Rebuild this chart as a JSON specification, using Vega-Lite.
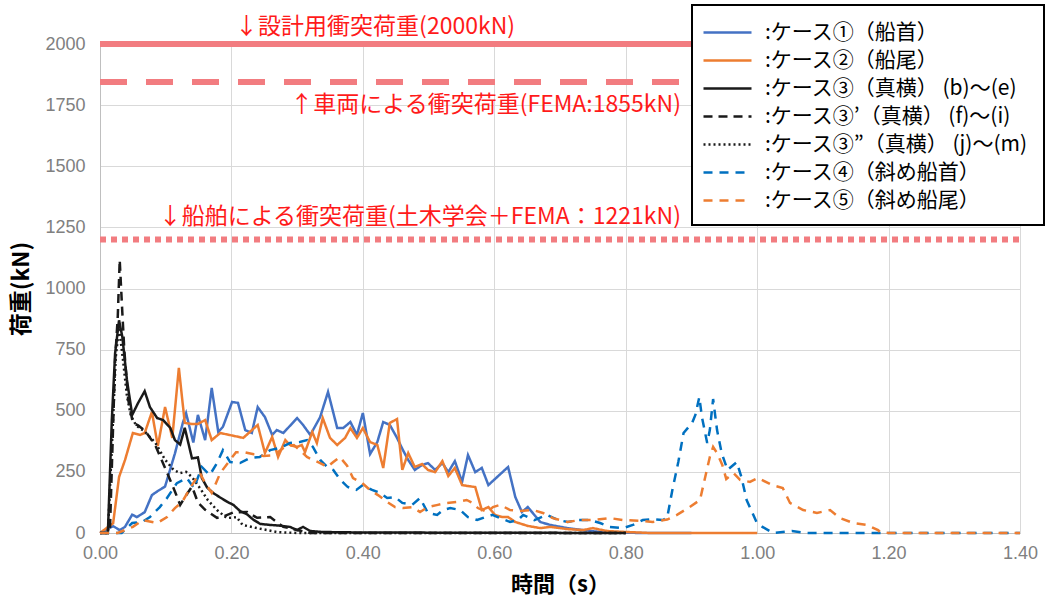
{
"$schema":"https://vega.github.io/schema/vega-lite/v6.json",
"width":920,"height":489,
"autosize":{"type":"none"},
"padding":{"left":100,"top":44,"right":27,"bottom":67},
"background":"white",
"config":{"view":{"stroke":null},"font":"Noto Sans CJK JP"},
"layer":[
{
"data":{"values":[
{"k":"c1","t":0,"v":0},{"k":"c1","t":0.02,"v":28},{"k":"c1","t":0.03,"v":12},{"k":"c1","t":0.038,"v":25},{"k":"c1","t":0.049,"v":75},{"k":"c1","t":0.056,"v":65},{"k":"c1","t":0.068,"v":85},{"k":"c1","t":0.079,"v":155},{"k":"c1","t":0.087,"v":170},{"k":"c1","t":0.099,"v":190},{"k":"c1","t":0.114,"v":325},{"k":"c1","t":0.126,"v":450},{"k":"c1","t":0.131,"v":490},{"k":"c1","t":0.142,"v":370},{"k":"c1","t":0.149,"v":483},{"k":"c1","t":0.16,"v":380},{"k":"c1","t":0.17,"v":593},{"k":"c1","t":0.18,"v":413},{"k":"c1","t":0.187,"v":434},{"k":"c1","t":0.201,"v":536},{"k":"c1","t":0.21,"v":532},{"k":"c1","t":0.221,"v":421},{"k":"c1","t":0.231,"v":409},{"k":"c1","t":0.24,"v":515},{"k":"c1","t":0.251,"v":474},{"k":"c1","t":0.262,"v":401},{"k":"c1","t":0.269,"v":421},{"k":"c1","t":0.279,"v":409},{"k":"c1","t":0.3,"v":470},{"k":"c1","t":0.309,"v":442},{"k":"c1","t":0.32,"v":401},{"k":"c1","t":0.335,"v":474},{"k":"c1","t":0.347,"v":577},{"k":"c1","t":0.361,"v":429},{"k":"c1","t":0.37,"v":429},{"k":"c1","t":0.381,"v":454},{"k":"c1","t":0.391,"v":401},{"k":"c1","t":0.4,"v":491},{"k":"c1","t":0.411,"v":323},{"k":"c1","t":0.422,"v":372},{"k":"c1","t":0.431,"v":454},{"k":"c1","t":0.441,"v":442},{"k":"c1","t":0.452,"v":389},{"k":"c1","t":0.461,"v":339},{"k":"c1","t":0.469,"v":299},{"k":"c1","t":0.479,"v":258},{"k":"c1","t":0.49,"v":278},{"k":"c1","t":0.499,"v":286},{"k":"c1","t":0.51,"v":258},{"k":"c1","t":0.521,"v":286},{"k":"c1","t":0.53,"v":249},{"k":"c1","t":0.54,"v":294},{"k":"c1","t":0.551,"v":209},{"k":"c1","t":0.56,"v":319},{"k":"c1","t":0.571,"v":249},{"k":"c1","t":0.581,"v":266},{"k":"c1","t":0.591,"v":196},{"k":"c1","t":0.621,"v":270},{"k":"c1","t":0.632,"v":147},{"k":"c1","t":0.642,"v":86},{"k":"c1","t":0.651,"v":106},{"k":"c1","t":0.67,"v":45},{"k":"c1","t":0.685,"v":33},{"k":"c1","t":0.711,"v":20},{"k":"c1","t":0.735,"v":12},{"k":"c1","t":0.761,"v":4},{"k":"c1","t":0.822,"v":0},{"k":"c1","t":0.9,"v":0},
{"k":"c2","t":0,"v":0},{"k":"c2","t":0.02,"v":40},{"k":"c2","t":0.029,"v":229},{"k":"c2","t":0.038,"v":298},{"k":"c2","t":0.05,"v":409},{"k":"c2","t":0.061,"v":401},{"k":"c2","t":0.068,"v":409},{"k":"c2","t":0.079,"v":495},{"k":"c2","t":0.088,"v":356},{"k":"c2","t":0.099,"v":515},{"k":"c2","t":0.11,"v":389},{"k":"c2","t":0.12,"v":675},{"k":"c2","t":0.129,"v":450},{"k":"c2","t":0.14,"v":446},{"k":"c2","t":0.149,"v":446},{"k":"c2","t":0.16,"v":462},{"k":"c2","t":0.17,"v":380},{"k":"c2","t":0.183,"v":409},{"k":"c2","t":0.218,"v":389},{"k":"c2","t":0.24,"v":442},{"k":"c2","t":0.251,"v":327},{"k":"c2","t":0.262,"v":393},{"k":"c2","t":0.271,"v":311},{"k":"c2","t":0.282,"v":380},{"k":"c2","t":0.289,"v":360},{"k":"c2","t":0.3,"v":352},{"k":"c2","t":0.307,"v":360},{"k":"c2","t":0.312,"v":331},{"k":"c2","t":0.323,"v":413},{"k":"c2","t":0.33,"v":368},{"k":"c2","t":0.339,"v":470},{"k":"c2","t":0.35,"v":389},{"k":"c2","t":0.361,"v":360},{"k":"c2","t":0.373,"v":389},{"k":"c2","t":0.381,"v":429},{"k":"c2","t":0.391,"v":389},{"k":"c2","t":0.4,"v":429},{"k":"c2","t":0.411,"v":372},{"k":"c2","t":0.422,"v":360},{"k":"c2","t":0.431,"v":266},{"k":"c2","t":0.441,"v":450},{"k":"c2","t":0.452,"v":466},{"k":"c2","t":0.46,"v":258},{"k":"c2","t":0.469,"v":327},{"k":"c2","t":0.479,"v":270},{"k":"c2","t":0.49,"v":282},{"k":"c2","t":0.499,"v":258},{"k":"c2","t":0.51,"v":249},{"k":"c2","t":0.521,"v":294},{"k":"c2","t":0.53,"v":233},{"k":"c2","t":0.54,"v":266},{"k":"c2","t":0.551,"v":196},{"k":"c2","t":0.56,"v":192},{"k":"c2","t":0.571,"v":188},{"k":"c2","t":0.581,"v":94},{"k":"c2","t":0.591,"v":106},{"k":"c2","t":0.601,"v":74},{"k":"c2","t":0.612,"v":65},{"k":"c2","t":0.621,"v":65},{"k":"c2","t":0.632,"v":45},{"k":"c2","t":0.651,"v":29},{"k":"c2","t":0.67,"v":20},{"k":"c2","t":0.685,"v":25},{"k":"c2","t":0.711,"v":16},{"k":"c2","t":0.735,"v":12},{"k":"c2","t":0.75,"v":20},{"k":"c2","t":0.772,"v":8},{"k":"c2","t":0.802,"v":4},{"k":"c2","t":0.837,"v":0},{"k":"c2","t":1.0,"v":0},
{"k":"c3","t":0,"v":0},{"k":"c3","t":0.012,"v":0},{"k":"c3","t":0.018,"v":462},{"k":"c3","t":0.023,"v":736},{"k":"c3","t":0.029,"v":870},{"k":"c3","t":0.034,"v":802},{"k":"c3","t":0.041,"v":626},{"k":"c3","t":0.049,"v":483},{"k":"c3","t":0.058,"v":532},{"k":"c3","t":0.068,"v":580},{"k":"c3","t":0.076,"v":515},{"k":"c3","t":0.087,"v":470},{"k":"c3","t":0.096,"v":462},{"k":"c3","t":0.107,"v":430},{"k":"c3","t":0.114,"v":380},{"k":"c3","t":0.122,"v":362},{"k":"c3","t":0.129,"v":430},{"k":"c3","t":0.14,"v":305},{"k":"c3","t":0.149,"v":309},{"k":"c3","t":0.155,"v":225},{"k":"c3","t":0.163,"v":186},{"k":"c3","t":0.172,"v":164},{"k":"c3","t":0.183,"v":145},{"k":"c3","t":0.194,"v":127},{"k":"c3","t":0.203,"v":115},{"k":"c3","t":0.213,"v":90},{"k":"c3","t":0.224,"v":76},{"k":"c3","t":0.233,"v":55},{"k":"c3","t":0.244,"v":37},{"k":"c3","t":0.259,"v":33},{"k":"c3","t":0.274,"v":30},{"k":"c3","t":0.289,"v":25},{"k":"c3","t":0.3,"v":12},{"k":"c3","t":0.309,"v":25},{"k":"c3","t":0.32,"v":8},{"k":"c3","t":0.339,"v":4},{"k":"c3","t":0.4,"v":2},{"k":"c3","t":0.8,"v":0},
{"k":"c3b","t":0,"v":0},{"k":"c3b","t":0.015,"v":0},{"k":"c3b","t":0.023,"v":708},{"k":"c3b","t":0.027,"v":883},{"k":"c3b","t":0.03,"v":1117},{"k":"c3b","t":0.034,"v":900},{"k":"c3b","t":0.037,"v":748},{"k":"c3b","t":0.043,"v":544},{"k":"c3b","t":0.05,"v":450},{"k":"c3b","t":0.058,"v":440},{"k":"c3b","t":0.068,"v":420},{"k":"c3b","t":0.084,"v":360},{"k":"c3b","t":0.1,"v":260},{"k":"c3b","t":0.114,"v":170},{"k":"c3b","t":0.122,"v":115},{"k":"c3b","t":0.13,"v":150},{"k":"c3b","t":0.14,"v":190},{"k":"c3b","t":0.149,"v":125},{"k":"c3b","t":0.16,"v":95},{"k":"c3b","t":0.178,"v":62},{"k":"c3b","t":0.19,"v":70},{"k":"c3b","t":0.203,"v":84},{"k":"c3b","t":0.224,"v":86},{"k":"c3b","t":0.239,"v":62},{"k":"c3b","t":0.259,"v":65},{"k":"c3b","t":0.279,"v":25},{"k":"c3b","t":0.3,"v":12},{"k":"c3b","t":0.32,"v":0},{"k":"c3b","t":0.8,"v":0},
{"k":"c3c","t":0,"v":0},{"k":"c3c","t":0.012,"v":0},{"k":"c3c","t":0.018,"v":350},{"k":"c3c","t":0.024,"v":720},{"k":"c3c","t":0.029,"v":840},{"k":"c3c","t":0.035,"v":708},{"k":"c3c","t":0.041,"v":560},{"k":"c3c","t":0.047,"v":480},{"k":"c3c","t":0.055,"v":440},{"k":"c3c","t":0.068,"v":415},{"k":"c3c","t":0.084,"v":370},{"k":"c3c","t":0.099,"v":300},{"k":"c3c","t":0.112,"v":258},{"k":"c3c","t":0.122,"v":245},{"k":"c3c","t":0.131,"v":250},{"k":"c3c","t":0.14,"v":229},{"k":"c3c","t":0.152,"v":184},{"k":"c3c","t":0.164,"v":135},{"k":"c3c","t":0.178,"v":94},{"k":"c3c","t":0.193,"v":61},{"k":"c3c","t":0.208,"v":65},{"k":"c3c","t":0.217,"v":33},{"k":"c3c","t":0.239,"v":20},{"k":"c3c","t":0.269,"v":4},{"k":"c3c","t":0.3,"v":0},{"k":"c3c","t":0.8,"v":0},
{"k":"c4","t":0,"v":0},{"k":"c4","t":0.033,"v":0},{"k":"c4","t":0.049,"v":41},{"k":"c4","t":0.064,"v":45},{"k":"c4","t":0.076,"v":65},{"k":"c4","t":0.091,"v":106},{"k":"c4","t":0.102,"v":143},{"k":"c4","t":0.117,"v":204},{"k":"c4","t":0.132,"v":225},{"k":"c4","t":0.143,"v":184},{"k":"c4","t":0.155,"v":270},{"k":"c4","t":0.167,"v":237},{"k":"c4","t":0.178,"v":286},{"k":"c4","t":0.187,"v":339},{"k":"c4","t":0.198,"v":290},{"k":"c4","t":0.213,"v":286},{"k":"c4","t":0.228,"v":307},{"k":"c4","t":0.243,"v":311},{"k":"c4","t":0.259,"v":339},{"k":"c4","t":0.274,"v":348},{"k":"c4","t":0.289,"v":368},{"k":"c4","t":0.304,"v":372},{"k":"c4","t":0.315,"v":380},{"k":"c4","t":0.324,"v":352},{"k":"c4","t":0.335,"v":299},{"k":"c4","t":0.346,"v":270},{"k":"c4","t":0.355,"v":258},{"k":"c4","t":0.365,"v":220},{"k":"c4","t":0.377,"v":188},{"k":"c4","t":0.39,"v":176},{"k":"c4","t":0.4,"v":196},{"k":"c4","t":0.414,"v":176},{"k":"c4","t":0.426,"v":164},{"k":"c4","t":0.437,"v":143},{"k":"c4","t":0.449,"v":147},{"k":"c4","t":0.46,"v":123},{"k":"c4","t":0.475,"v":115},{"k":"c4","t":0.487,"v":143},{"k":"c4","t":0.499,"v":82},{"k":"c4","t":0.513,"v":74},{"k":"c4","t":0.522,"v":94},{"k":"c4","t":0.533,"v":102},{"k":"c4","t":0.548,"v":94},{"k":"c4","t":0.56,"v":65},{"k":"c4","t":0.574,"v":53},{"k":"c4","t":0.586,"v":65},{"k":"c4","t":0.597,"v":74},{"k":"c4","t":0.609,"v":61},{"k":"c4","t":0.624,"v":45},{"k":"c4","t":0.636,"v":53},{"k":"c4","t":0.644,"v":74},{"k":"c4","t":0.661,"v":53},{"k":"c4","t":0.68,"v":74},{"k":"c4","t":0.697,"v":53},{"k":"c4","t":0.712,"v":45},{"k":"c4","t":0.727,"v":53},{"k":"c4","t":0.746,"v":53},{"k":"c4","t":0.761,"v":41},{"k":"c4","t":0.776,"v":25},{"k":"c4","t":0.796,"v":20},{"k":"c4","t":0.811,"v":33},{"k":"c4","t":0.826,"v":53},{"k":"c4","t":0.841,"v":57},{"k":"c4","t":0.856,"v":53},{"k":"c4","t":0.863,"v":61},{"k":"c4","t":0.871,"v":176},{"k":"c4","t":0.88,"v":290},{"k":"c4","t":0.888,"v":409},{"k":"c4","t":0.901,"v":450},{"k":"c4","t":0.906,"v":483},{"k":"c4","t":0.912,"v":556},{"k":"c4","t":0.916,"v":474},{"k":"c4","t":0.924,"v":368},{"k":"c4","t":0.928,"v":421},{"k":"c4","t":0.933,"v":548},{"k":"c4","t":0.939,"v":421},{"k":"c4","t":0.946,"v":327},{"k":"c4","t":0.955,"v":258},{"k":"c4","t":0.969,"v":290},{"k":"c4","t":0.976,"v":229},{"k":"c4","t":0.984,"v":135},{"k":"c4","t":0.999,"v":45},{"k":"c4","t":1.008,"v":25},{"k":"c4","t":1.024,"v":0},{"k":"c4","t":1.053,"v":8},{"k":"c4","t":1.076,"v":0},{"k":"c4","t":1.4,"v":0},
{"k":"c5","t":0,"v":0},{"k":"c5","t":0.027,"v":0},{"k":"c5","t":0.05,"v":25},{"k":"c5","t":0.065,"v":53},{"k":"c5","t":0.087,"v":41},{"k":"c5","t":0.102,"v":65},{"k":"c5","t":0.114,"v":102},{"k":"c5","t":0.125,"v":127},{"k":"c5","t":0.14,"v":196},{"k":"c5","t":0.152,"v":245},{"k":"c5","t":0.16,"v":204},{"k":"c5","t":0.17,"v":164},{"k":"c5","t":0.183,"v":245},{"k":"c5","t":0.198,"v":299},{"k":"c5","t":0.207,"v":330},{"k":"c5","t":0.219,"v":331},{"k":"c5","t":0.234,"v":322},{"k":"c5","t":0.249,"v":315},{"k":"c5","t":0.265,"v":318},{"k":"c5","t":0.281,"v":352},{"k":"c5","t":0.295,"v":360},{"k":"c5","t":0.304,"v":339},{"k":"c5","t":0.315,"v":311},{"k":"c5","t":0.324,"v":299},{"k":"c5","t":0.335,"v":286},{"k":"c5","t":0.346,"v":270},{"k":"c5","t":0.355,"v":290},{"k":"c5","t":0.365,"v":311},{"k":"c5","t":0.376,"v":275},{"k":"c5","t":0.385,"v":225},{"k":"c5","t":0.399,"v":204},{"k":"c5","t":0.411,"v":176},{"k":"c5","t":0.423,"v":155},{"k":"c5","t":0.437,"v":127},{"k":"c5","t":0.449,"v":106},{"k":"c5","t":0.461,"v":102},{"k":"c5","t":0.475,"v":106},{"k":"c5","t":0.487,"v":86},{"k":"c5","t":0.499,"v":106},{"k":"c5","t":0.514,"v":115},{"k":"c5","t":0.528,"v":123},{"k":"c5","t":0.543,"v":127},{"k":"c5","t":0.558,"v":135},{"k":"c5","t":0.567,"v":123},{"k":"c5","t":0.575,"v":102},{"k":"c5","t":0.589,"v":86},{"k":"c5","t":0.598,"v":106},{"k":"c5","t":0.609,"v":115},{"k":"c5","t":0.624,"v":94},{"k":"c5","t":0.639,"v":90},{"k":"c5","t":0.659,"v":94},{"k":"c5","t":0.674,"v":82},{"k":"c5","t":0.689,"v":61},{"k":"c5","t":0.711,"v":45},{"k":"c5","t":0.731,"v":53},{"k":"c5","t":0.75,"v":53},{"k":"c5","t":0.776,"v":61},{"k":"c5","t":0.796,"v":53},{"k":"c5","t":0.822,"v":50},{"k":"c5","t":0.841,"v":45},{"k":"c5","t":0.863,"v":55},{"k":"c5","t":0.878,"v":74},{"k":"c5","t":0.895,"v":102},{"k":"c5","t":0.913,"v":135},{"k":"c5","t":0.921,"v":229},{"k":"c5","t":0.928,"v":311},{"k":"c5","t":0.933,"v":352},{"k":"c5","t":0.939,"v":327},{"k":"c5","t":0.947,"v":278},{"k":"c5","t":0.953,"v":221},{"k":"c5","t":0.964,"v":245},{"k":"c5","t":0.974,"v":217},{"k":"c5","t":0.989,"v":209},{"k":"c5","t":1.001,"v":225},{"k":"c5","t":1.023,"v":196},{"k":"c5","t":1.039,"v":184},{"k":"c5","t":1.05,"v":123},{"k":"c5","t":1.07,"v":94},{"k":"c5","t":1.091,"v":82},{"k":"c5","t":1.111,"v":94},{"k":"c5","t":1.126,"v":61},{"k":"c5","t":1.146,"v":41},{"k":"c5","t":1.167,"v":33},{"k":"c5","t":1.184,"v":12},{"k":"c5","t":1.187,"v":4},{"k":"c5","t":1.2,"v":0},{"k":"c5","t":1.4,"v":0}
]},
"transform":[{"lookup":"k","from":{"data":{"values":[
{"k":"c1","label":":ケース①（船首）"},
{"k":"c2","label":":ケース②（船尾）"},
{"k":"c3","label":":ケース③（真横） (b)〜(e)"},
{"k":"c3b","label":":ケース③’（真横） (f)〜(i)"},
{"k":"c3c","label":":ケース③”（真横） (j)〜(m)"},
{"k":"c4","label":":ケース④（斜め船首）"},
{"k":"c5","label":":ケース⑤（斜め船尾）"}
]},"key":"k","fields":["label"]}}],
"mark":{"type":"line","strokeWidth":2.5},
"encoding":{
"x":{"field":"t","type":"quantitative","scale":{"domain":[0,1.4],"nice":false,"zero":false},
 "axis":{"values":[0,0.2,0.4,0.6,0.8,1.0,1.2,1.4],"format":".2f","grid":true,"gridColor":"#d9d9d9","domainColor":"#bfbfbf","ticks":false,"labelFont":"Liberation Sans","labelFontSize":18,"labelColor":"#808080","labelPadding":11,"labelFlush":false,"title":"時間（s）","titleFont":"Noto Sans CJK JP","titleFontSize":22,"titleFontWeight":"bold","titleColor":"black","titlePadding":12}},
"y":{"field":"v","type":"quantitative","scale":{"domain":[0,2000],"nice":false},
 "axis":{"values":[0,250,500,750,1000,1250,1500,1750,2000],"format":"d","grid":true,"gridColor":"#d9d9d9","domainColor":"#bfbfbf","ticks":false,"labelFont":"Liberation Sans","labelFontSize":18,"labelColor":"#808080","labelPadding":15,"title":"荷重(kN)","titleFont":"Noto Sans CJK JP","titleFontSize":23,"titleFontWeight":"bold","titleColor":"black","titlePadding":11}},
"color":{"field":"label","type":"nominal",
 "scale":{"domain":[":ケース①（船首）",":ケース②（船尾）",":ケース③（真横） (b)〜(e)",":ケース③’（真横） (f)〜(i)",":ケース③”（真横） (j)〜(m)",":ケース④（斜め船首）",":ケース⑤（斜め船尾）"],
  "range":["#4472c4","#ed7d31","#1a1a1a","#1a1a1a","#1a1a1a","#0070c0","#ed7d31"]},
 "legend":{"title":null,"orient":"none","legendX":592,"legendY":-39,"symbolType":"M-2,0L2,0","symbolSize":576,"symbolStrokeWidth":2.5,"symbolOffset":8,"padding":14,"labelFont":"Noto Sans CJK JP","labelFontSize":21,"labelColor":"black","labelOffset":24,"rowPadding":4,"labelLimit":400,"fillColor":"white","strokeColor":"black","symbolLimit":0,"encode":{"legend":{"update":{"strokeWidth":{"value":2}}}}}},
"strokeDash":{"field":"label","type":"nominal",
 "scale":{"domain":[":ケース①（船首）",":ケース②（船尾）",":ケース③（真横） (b)〜(e)",":ケース③’（真横） (f)〜(i)",":ケース③”（真横） (j)〜(m)",":ケース④（斜め船首）",":ケース⑤（斜め船尾）"],
  "range":[[1,0],[1,0],[1,0],[9,6],[2,3],[9,7],[9,7]]},
 "legend":{"title":null,"orient":"none","legendX":592,"legendY":-39,"symbolType":"M-2,0L2,0","symbolSize":576,"symbolStrokeWidth":2.5,"symbolOffset":8,"padding":14,"labelFont":"Noto Sans CJK JP","labelFontSize":21,"labelColor":"black","labelOffset":24,"rowPadding":4,"labelLimit":400,"fillColor":"white","strokeColor":"black","symbolLimit":0,"encode":{"legend":{"update":{"strokeWidth":{"value":2}}}}}}
}
},
{"data":{"values":[{"v":2000}]},"mark":{"type":"rule","color":"#f27c80","strokeWidth":6},
 "encoding":{"y":{"field":"v","type":"quantitative","scale":{"domain":[0,2000],"nice":false}}}},
{"data":{"values":[{"v":1845}]},"mark":{"type":"rule","color":"#f27c80","strokeWidth":6,"strokeDash":[27,19],"strokeDashOffset":27},
 "encoding":{"y":{"field":"v","type":"quantitative","scale":{"domain":[0,2000],"nice":false}}}},
{"data":{"values":[{"v":1200}]},"mark":{"type":"rule","color":"#f27c80","strokeWidth":6,"strokeDash":[6,5],"strokeDashOffset":10},
 "encoding":{"y":{"field":"v","type":"quantitative","scale":{"domain":[0,2000],"nice":false}}}},
{"data":{"values":[{"label":"↓設計用衝突荷重(2000kN)"}]},"mark":{"type":"text","align":"center","baseline":"middle","fontSize":23,"font":"Noto Sans CJK JP","color":"#ff1a1a"},
 "encoding":{"text":{"field":"label"},"x":{"datum":0.4186,"type":"quantitative"},"y":{"datum":2070,"type":"quantitative"}}},
{"data":{"values":[{"label":"↑車両による衝突荷重(FEMA:1855kN)"}]},"mark":{"type":"text","align":"right","baseline":"middle","fontSize":23,"font":"Noto Sans CJK JP","color":"#ff1a1a"},
 "encoding":{"text":{"field":"label"},"x":{"datum":0.884,"type":"quantitative"},"y":{"datum":1750,"type":"quantitative"}}},
{"data":{"values":[{"label":"↓船舶による衝突荷重(土木学会＋FEMA：1221kN)"}]},"mark":{"type":"text","align":"right","baseline":"middle","fontSize":23,"font":"Noto Sans CJK JP","color":"#ff1a1a"},
 "encoding":{"text":{"field":"label"},"x":{"datum":0.884,"type":"quantitative"},"y":{"datum":1292,"type":"quantitative"}}}
]
}
